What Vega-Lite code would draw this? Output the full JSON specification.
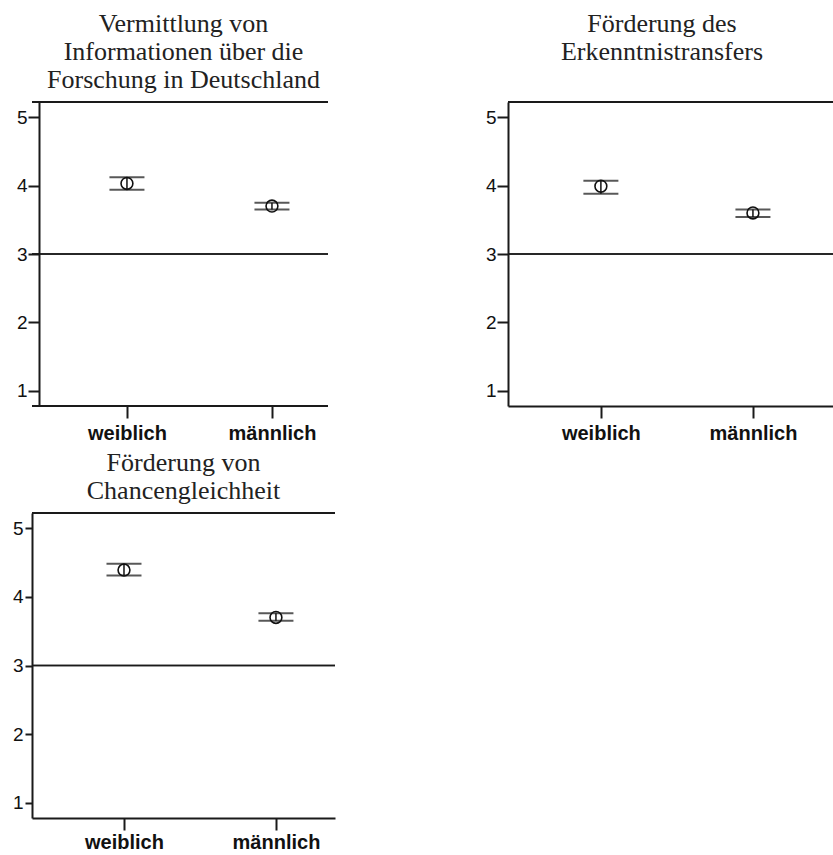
{
  "$schema": "https://vega.github.io/schema/vega-lite/v6.json",
  "background": "white",
  "padding": {"left": 12, "top": 11, "right": 0, "bottom": 0},
  "config": {
    "view": {"stroke": null},
    "axis": {"domainColor": "#1a1a1a", "domainWidth": 2, "tickColor": "#1a1a1a", "tickWidth": 2, "grid": false, "labelColor": "#111"},
    "axisY": {"labelFont": "Liberation Sans", "labelFontSize": 19, "tickSize": 11, "labelPadding": 1},
    "axisX": {"labelFont": "Liberation Sans", "labelFontSize": 20, "labelFontWeight": "bold", "tickSize": 12, "labelPadding": 5, "labelAngle": 0},
    "title": {"font": "Liberation Serif", "fontSize": 26, "fontWeight": "normal", "lineHeight": 28, "anchor": "middle", "color": "#222"}
  },
  "data": {"values": [
    {"panel": "p1", "gender": "weiblich", "mean": 4.03, "lo": 3.94, "hi": 4.12},
    {"panel": "p1", "gender": "männlich", "mean": 3.70, "lo": 3.65, "hi": 3.75},
    {"panel": "p2", "gender": "weiblich", "mean": 3.99, "lo": 3.88, "hi": 4.07},
    {"panel": "p2", "gender": "männlich", "mean": 3.60, "lo": 3.54, "hi": 3.65},
    {"panel": "p3", "gender": "weiblich", "mean": 4.39, "lo": 4.31, "hi": 4.48},
    {"panel": "p3", "gender": "männlich", "mean": 3.70, "lo": 3.65, "hi": 3.76}
  ]},
  "columns": 2,
  "spacing": {"row": 7, "column": 147},
  "concat": [
    {
      "width": 303, "height": 304,
      "title": {"text": ["Vermittlung von", "Informationen über die", "Forschung in Deutschland"], "offset": 8},
      "transform": [{"filter": "datum.panel == 'p1'"}],
      "layer": [
        {"mark": {"type": "rule", "color": "#1a1a1a", "strokeWidth": 2, "strokeDash": [0, 7, 700]}, "encoding": {"y": {"datum": 5.22, "type": "quantitative", "scale": {"domain": [0.78, 5.22], "nice": false, "zero": false}, "axis": {"title": null, "values": [1, 2, 3, 4, 5], "format": "d", "offset": -7, "minExtent": 20, "maxExtent": 20}}}},
        {"mark": {"type": "rule", "color": "#1a1a1a", "strokeWidth": 2, "strokeDash": [0, 7, 700]}, "encoding": {"y": {"datum": 0.78, "type": "quantitative"}}},
        {"mark": {"type": "rule", "color": "#1a1a1a", "strokeWidth": 1.6, "strokeDash": [0, 7, 700]}, "encoding": {"y": {"datum": 3, "type": "quantitative"}}},
        {"mark": {"type": "rule", "color": "#111", "strokeWidth": 1.5},
         "encoding": {
           "x": {"field": "gender", "type": "nominal", "sort": ["weiblich", "männlich"], "scale": {"type": "point", "padding": 0.5448, "align": 0.601}, "axis": {"title": null, "domain": false}},
           "y": {"field": "lo", "type": "quantitative"}, "y2": {"field": "hi"}}},
        {"mark": {"type": "tick", "color": "#111", "size": 35, "thickness": 2},
         "encoding": {"x": {"field": "gender", "type": "nominal", "sort": ["weiblich", "männlich"]}, "y": {"field": "lo", "type": "quantitative"}}},
        {"mark": {"type": "tick", "color": "#111", "size": 35, "thickness": 2},
         "encoding": {"x": {"field": "gender", "type": "nominal", "sort": ["weiblich", "männlich"]}, "y": {"field": "hi", "type": "quantitative"}}},
        {"mark": {"type": "point", "shape": "circle", "filled": false, "size": 140, "strokeWidth": 1.6, "color": "#111", "opacity": 1},
         "encoding": {"x": {"field": "gender", "type": "nominal", "sort": ["weiblich", "männlich"]}, "y": {"field": "mean", "type": "quantitative"}}}
      ]
    },
    {
      "width": 326, "height": 304,
      "title": {"text": ["Förderung des", "Erkenntnistransfers"], "offset": 36, "dx": -9},
      "transform": [{"filter": "datum.panel == 'p2'"}],
      "layer": [
        {"mark": {"type": "rule", "color": "#1a1a1a", "strokeWidth": 2}, "encoding": {"y": {"datum": 5.22, "type": "quantitative", "scale": {"domain": [0.78, 5.22], "nice": false, "zero": false}, "axis": {"title": null, "values": [1, 2, 3, 4, 5], "format": "d", "minExtent": 25, "maxExtent": 25}}}},
        {"mark": {"type": "rule", "color": "#1a1a1a", "strokeWidth": 1.6}, "encoding": {"y": {"datum": 3, "type": "quantitative"}}},
        {"mark": {"type": "rule", "color": "#111", "strokeWidth": 1.5},
         "encoding": {
           "x": {"field": "gender", "type": "nominal", "sort": ["weiblich", "männlich"], "scale": {"type": "point", "padding": 0.572, "align": 0.534}, "axis": {"title": null}},
           "y": {"field": "lo", "type": "quantitative"}, "y2": {"field": "hi"}}},
        {"mark": {"type": "tick", "color": "#111", "size": 35, "thickness": 2},
         "encoding": {"x": {"field": "gender", "type": "nominal", "sort": ["weiblich", "männlich"]}, "y": {"field": "lo", "type": "quantitative"}}},
        {"mark": {"type": "tick", "color": "#111", "size": 35, "thickness": 2},
         "encoding": {"x": {"field": "gender", "type": "nominal", "sort": ["weiblich", "männlich"]}, "y": {"field": "hi", "type": "quantitative"}}},
        {"mark": {"type": "point", "shape": "circle", "filled": false, "size": 140, "strokeWidth": 1.6, "color": "#111", "opacity": 1},
         "encoding": {"x": {"field": "gender", "type": "nominal", "sort": ["weiblich", "männlich"]}, "y": {"field": "mean", "type": "quantitative"}}}
      ]
    },
    {
      "width": 303, "height": 305,
      "title": {"text": ["Förderung von", "Chancengleichheit"], "offset": 8},
      "transform": [{"filter": "datum.panel == 'p3'"}],
      "layer": [
        {"mark": {"type": "rule", "color": "#1a1a1a", "strokeWidth": 2}, "encoding": {"y": {"datum": 5.22, "type": "quantitative", "scale": {"domain": [0.78, 5.22], "nice": false, "zero": false}, "axis": {"title": null, "values": [1, 2, 3, 4, 5], "format": "d", "tickSize": 7, "labelPadding": 2, "minExtent": 20, "maxExtent": 20}}}},
        {"mark": {"type": "rule", "color": "#1a1a1a", "strokeWidth": 1.6}, "encoding": {"y": {"datum": 3, "type": "quantitative"}}},
        {"mark": {"type": "rule", "color": "#111", "strokeWidth": 1.5},
         "encoding": {
           "x": {"field": "gender", "type": "nominal", "sort": ["weiblich", "männlich"], "scale": {"type": "point", "padding": 0.497, "align": 0.609}, "axis": {"title": null, "labelPadding": 2}},
           "y": {"field": "lo", "type": "quantitative"}, "y2": {"field": "hi"}}},
        {"mark": {"type": "tick", "color": "#111", "size": 35, "thickness": 2},
         "encoding": {"x": {"field": "gender", "type": "nominal", "sort": ["weiblich", "männlich"]}, "y": {"field": "lo", "type": "quantitative"}}},
        {"mark": {"type": "tick", "color": "#111", "size": 35, "thickness": 2},
         "encoding": {"x": {"field": "gender", "type": "nominal", "sort": ["weiblich", "männlich"]}, "y": {"field": "hi", "type": "quantitative"}}},
        {"mark": {"type": "point", "shape": "circle", "filled": false, "size": 140, "strokeWidth": 1.6, "color": "#111", "opacity": 1},
         "encoding": {"x": {"field": "gender", "type": "nominal", "sort": ["weiblich", "männlich"]}, "y": {"field": "mean", "type": "quantitative"}}}
      ]
    }
  ]
}
